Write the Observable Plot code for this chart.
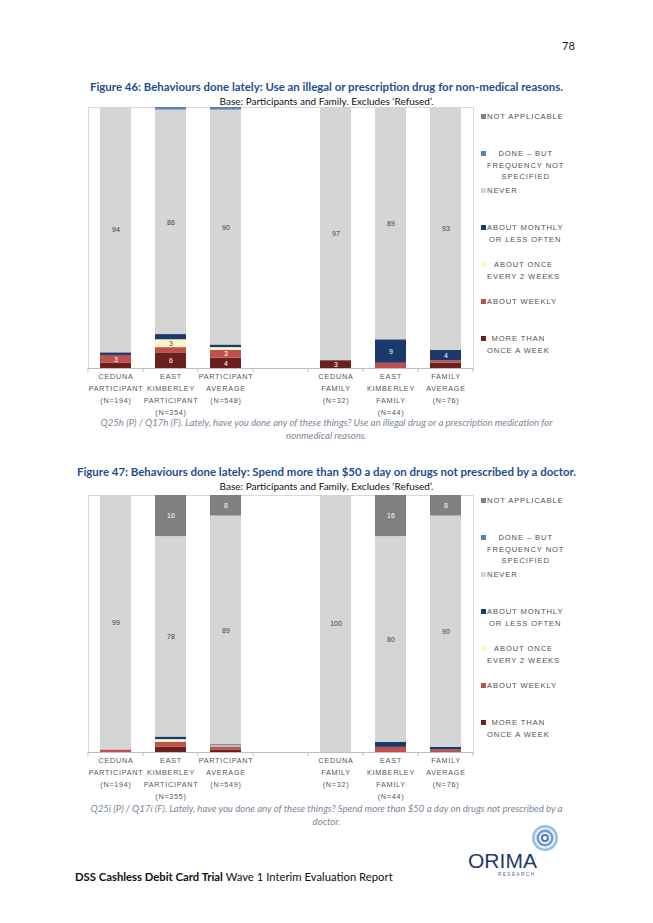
<!DOCTYPE html>
<html><head><meta charset="utf-8">
<script src="https://cdn.jsdelivr.net/npm/d3@7"></script>
<script src="https://cdn.jsdelivr.net/npm/@observablehq/plot@0.6"></script>
<style>
body{margin:0;background:#fff;}
#page{position:relative;width:653px;height:923px;overflow:hidden;font-family:Lato,"Open Sans",sans-serif;background:#fff;}
.center{position:absolute;left:0;width:653px;text-align:center;white-space:nowrap;}
.title{color:#1f4e8c;font-weight:bold;font-size:11.45px;}
.base{color:#111;font-size:10px;}
.cap{color:#7b8798;font-style:italic;font-size:9.6px;line-height:13px;}
.chart{position:absolute;left:56px;}
.chart g[aria-label="x-axis tick label"] text{letter-spacing:0.75px;}
.legend{position:absolute;left:481px;width:125px;font-family:"Liberation Sans",Arial,sans-serif;font-size:7.6px;letter-spacing:0.9px;color:#505050;}
.item{position:absolute;left:0;display:flex;align-items:flex-start;}
.sw{width:5px;height:5px;margin-top:3px;margin-right:1px;flex:none}
.lab{text-align:center;line-height:11.5px;white-space:nowrap;}
</style></head>
<body><div id="page">
<div style="position:absolute;left:562px;top:39px;font-size:11px;color:#222;">78</div>
<div class="center title" style="top:80px;">Figure 46: Behaviours done lately: Use an illegal or prescription drug for non-medical reasons.</div>
<div class="center base" style="top:95px;">Base: Participants and Family. Excludes ‘Refused’.</div>
<div id="chart1" class="chart" style="top:100px;"></div>
<div id="legend1" class="legend" style="top:111px;"></div>
<div class="center cap" style="top:416px;">Q25h (P) / Q17h (F). Lately, have you done any of these things? Use an illegal drug or a prescription medication for<br>nonmedical reasons.</div>

<div class="center title" style="top:465px;">Figure 47: Behaviours done lately: Spend more than $50 a day on drugs not prescribed by a doctor.</div>
<div class="center base" style="top:480px;">Base: Participants and Family. Excludes ‘Refused’.</div>
<div id="chart2" class="chart" style="top:488px;"></div>
<div id="legend2" class="legend" style="top:495px;"></div>
<div class="center cap" style="top:802px;">Q25i (P) / Q17i (F). Lately, have you done any of these things? Spend more than $50 a day on drugs not prescribed by a<br>doctor.</div>

<div style="position:absolute;left:75px;top:870px;font-size:11.3px;color:#111;white-space:nowrap;"><b>DSS Cashless Debit Card Trial</b> Wave 1 Interim Evaluation Report</div>
<svg style="position:absolute;left:460px;top:820px;" width="110" height="65">
  <circle cx="85" cy="18" r="13" fill="#9dbddc"/>
  <circle cx="85" cy="18" r="10.5" fill="#e9f1f8"/>
  <circle cx="85" cy="18" r="8.5" fill="#6f9ccc"/>
  <circle cx="85" cy="18" r="6" fill="#eef4fa"/>
  <circle cx="85" cy="18" r="4" fill="#4a7fb8"/>
  <circle cx="85" cy="18" r="2" fill="#ffffff"/>
  <text x="8" y="48" font-family="Liberation Sans,Arial,sans-serif" font-size="21" fill="#1f3a6b" textLength="69" lengthAdjust="spacingAndGlyphs">ORIMA</text>
  <text x="38" y="56" font-family="Liberation Sans,Arial,sans-serif" font-size="4.6" fill="#4a6a9b" textLength="36" lengthAdjust="spacing">RESEARCH</text>
</svg>
</div>
<script>
// ---- data ----
const seriesNames = ["More than once a week","About weekly","About once every 2 weeks","About monthly or less often","Never","Done – but frequency not specified","Not applicable"];
const seriesColors = ["#6b2020","#c0504d","#fbf8c6","#1b3a6b","#d3d6d4","#5b82b3","#808080"];
const darkSeries = ["More than once a week","About weekly","About monthly or less often","Not applicable"];
const legendLabels = ["NOT APPLICABLE","DONE – BUT<br>FREQUENCY NOT<br>SPECIFIED","NEVER","ABOUT MONTHLY<br>OR LESS OFTEN","ABOUT ONCE<br>EVERY 2 WEEKS","ABOUT WEEKLY","MORE THAN<br>ONCE A WEEK"];

const categories = ["CP","EKP","PA","gap","CF","EKF","FA"];
const tickLabels1 = ["CEDUNA\nPARTICIPANT\n(N=194)","EAST\nKIMBERLEY\nPARTICIPANT\n(N=354)","PARTICIPANT\nAVERAGE\n(N=548)","","CEDUNA\nFAMILY\n(N=32)","EAST\nKIMBERLEY\nFAMILY\n(N=44)","FAMILY\nAVERAGE\n(N=76)"];
const tickLabels2 = ["CEDUNA\nPARTICIPANT\n(N=194)","EAST\nKIMBERLEY\nPARTICIPANT\n(N=355)","PARTICIPANT\nAVERAGE\n(N=549)","","CEDUNA\nFAMILY\n(N=32)","EAST\nKIMBERLEY\nFAMILY\n(N=44)","FAMILY\nAVERAGE\n(N=76)"];

// Figure 46 values, per series, in category order
const f46MoreThanWeekly = [2, 6, 4, 0, 3, 0, 2];
const f46Weekly         = [3, 2, 3, 0, 0, 2, 1];
const f46Fortnightly    = [0, 3, 1, 0, 0, 0, 0];
const f46Monthly        = [1, 2, 1, 0, 0, 9, 4];
const f46Never          = [94, 86, 90, 0, 97, 89, 93];
const f46DoneUnspec     = [0, 1, 1, 0, 0, 0, 0];
const f46NotApplicable  = [0, 0, 0, 0, 0, 0, 0];

// Figure 47 values
const f47MoreThanWeekly = [0, 2, 1, 0, 0, 0, 0];
const f47Weekly         = [1, 2, 1.2, 0, 0, 2, 1];
const f47Fortnightly    = [0, 1, 0.4, 0, 0, 0, 0];
const f47Monthly        = [0, 1, 0.4, 0, 0, 2, 1];
const f47Never          = [99, 78, 89, 0, 100, 80, 90];
const f47DoneUnspec     = [0, 0, 0, 0, 0, 0, 0];
const f47NotApplicable  = [0, 16, 8, 0, 0, 16, 8];

function boundaryTicks(index, scales, values, dimensions) {
  const x = scales.x;
  const step = x.step(), bw = x.bandwidth();
  const y0 = dimensions.height - dimensions.marginBottom;
  const dom = x.domain();
  const pos = dom.map(c => x(c) + bw / 2 - step / 2);
  pos.push(x(dom[dom.length - 1]) + bw / 2 + step / 2);
  const g = d3.create("svg:g").attr("stroke", "#bfbfbf");
  g.selectAll("line").data(pos).join("line")
    .attr("x1", d => d).attr("x2", d => d).attr("y1", y0).attr("y2", y0 + 4);
  return g.node();
}

function makeChart(vals, labels, plotH) {
  const data = [];
  seriesNames.forEach((s, si) => categories.forEach((c, ci) => data.push({cat: c, series: s, value: vals[si][ci]})));
  const lab = (d) => d.value >= 3 ? String(Math.round(d.value)) : "";
  return Plot.plot({
    width: 424, height: 7 + plotH + 55,
    marginLeft: 32, marginRight: 7, marginTop: 7, marginBottom: 55,
    style: {fontFamily: "Liberation Sans, Arial, sans-serif", background: "transparent", color: "#555555", overflow: "visible"},
    x: {domain: categories, paddingInner: 0.44, paddingOuter: 0.22, label: null},
    y: {domain: [0, 100], axis: null},
    color: {domain: seriesNames, range: seriesColors},
    marks: [
      Plot.frame({stroke: "#d9d9d9"}),
      Plot.barY(data, {x: "cat", y: "value", fill: "series"}),
      Plot.text(data, Plot.stackY({x: "cat", y: "value", text: d => darkSeries.includes(d.series) ? lab(d) : "", fill: "white", fontSize: 7})),
      Plot.text(data, Plot.stackY({x: "cat", y: "value", text: d => darkSeries.includes(d.series) ? "" : lab(d), fill: "#404040", fontSize: 7})),
      Plot.ruleY([0], {stroke: "#bfbfbf"}),
      boundaryTicks,
      Plot.axisX({tickSize: 0, tickPadding: 2, tickFormat: c => labels[categories.indexOf(c)], fontSize: 7.2, lineHeight: 1.65})
    ]
  });
}

function makeLegend(el) {
  const order = seriesNames.slice().reverse();
  order.forEach((s, i) => {
    const item = document.createElement("div");
    item.className = "item";
    item.style.top = (i * 37) + "px";
    const sw = document.createElement("div");
    sw.className = "sw";
    sw.style.background = seriesColors[seriesNames.indexOf(s)];
    const t = document.createElement("div");
    t.className = "lab";
    t.innerHTML = legendLabels[i];
    item.appendChild(sw); item.appendChild(t);
    el.appendChild(item);
  });
}

document.getElementById("chart1").appendChild(makeChart(
  [f46MoreThanWeekly, f46Weekly, f46Fortnightly, f46Monthly, f46Never, f46DoneUnspec, f46NotApplicable], tickLabels1, 261));
document.getElementById("chart2").appendChild(makeChart(
  [f47MoreThanWeekly, f47Weekly, f47Fortnightly, f47Monthly, f47Never, f47DoneUnspec, f47NotApplicable], tickLabels2, 257));
makeLegend(document.getElementById("legend1"));
makeLegend(document.getElementById("legend2"));
</script>
</body></html>
